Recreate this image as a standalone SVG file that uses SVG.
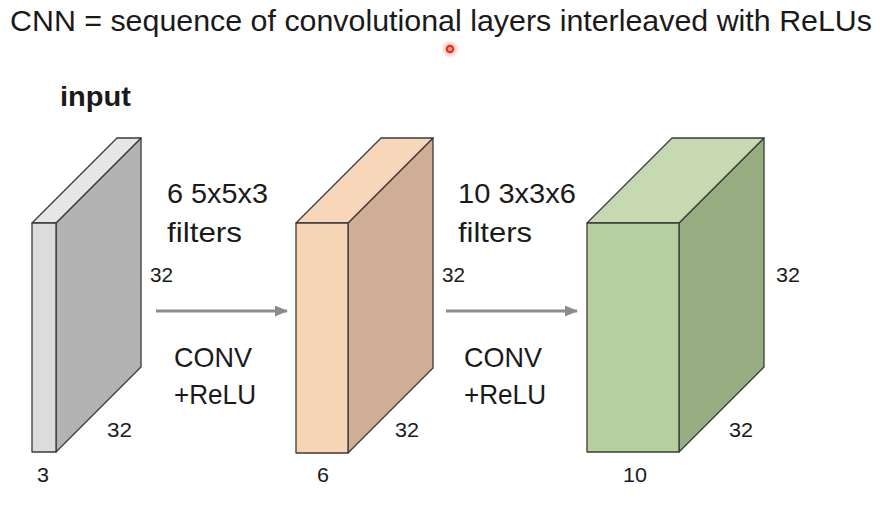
<svg xmlns="http://www.w3.org/2000/svg" width="884" height="506" viewBox="0 0 884 506">
<defs>
<style>
text{font-family:"Liberation Sans",Arial,sans-serif;fill:#1a1a1a}
.lbl{font-size:28px}
.dim{font-size:21px}
.blk{stroke:#3a3a3a;stroke-width:1.3;stroke-linejoin:round}
.conn{stroke:#8c8c8c;stroke-width:3;fill:none}
</style>
<marker id="ah" viewBox="0 0 13 11" refX="12" refY="5.5" markerWidth="13" markerHeight="11" markerUnits="userSpaceOnUse" orient="auto">
<path d="M0,0 L13,5.5 L0,11 Z" fill="#8c8c8c"/>
</marker>
<radialGradient id="glow">
<stop offset="0" stop-color="#ff6a50" stop-opacity="0.7"/>
<stop offset="1" stop-color="#ff6a50" stop-opacity="0"/>
</radialGradient>
</defs>
<rect width="884" height="506" fill="#ffffff"/>
<text x="10" y="31" font-size="30" textLength="862" lengthAdjust="spacingAndGlyphs">CNN = sequence of convolutional layers interleaved with ReLUs</text>
<g id="pointer">
<circle cx="450" cy="49" r="9" fill="url(#glow)"/>
<circle cx="450" cy="49" r="3.2" fill="none" stroke="#e8321e" stroke-width="2.2"/>
</g>
<g id="input">
<text x="60" y="106" font-size="27" font-weight="bold" textLength="71" lengthAdjust="spacingAndGlyphs">input</text>
<polygon class="blk" points="56,223 141,138 141,367 56,452" fill="#b3b3b3"/>
<polygon class="blk" points="32,223 117,138 141,138 56,223" fill="#e6e6e6"/>
<rect class="blk" x="32" y="223" width="24" height="229" fill="#dcdcdc"/>
<text class="dim" x="150" y="282" textLength="23" lengthAdjust="spacingAndGlyphs">32</text>
<text class="dim" x="107" y="437" textLength="25" lengthAdjust="spacingAndGlyphs">32</text>
<text class="dim" x="37" y="482" textLength="12" lengthAdjust="spacingAndGlyphs">3</text>
</g>
<g id="conv1">
<polygon class="blk" points="348,223 433,138 433,368 348,453" fill="#d0ae96"/>
<polygon class="blk" points="296,223 381,138 433,138 348,223" fill="#f8d6ba"/>
<rect class="blk" x="296" y="223" width="52" height="230" fill="#f8d4b6"/>
<text class="dim" x="442" y="282" textLength="23" lengthAdjust="spacingAndGlyphs">32</text>
<text class="dim" x="395" y="437" textLength="24" lengthAdjust="spacingAndGlyphs">32</text>
<text class="dim" x="317" y="482" textLength="12" lengthAdjust="spacingAndGlyphs">6</text>
</g>
<g id="conv2">
<polygon class="blk" points="679,223 764,138 764,367 679,452" fill="#98ae82"/>
<polygon class="blk" points="587,223 672,138 764,138 679,223" fill="#c6d9b0"/>
<rect class="blk" x="587" y="223" width="92" height="229" fill="#b7cf9e"/>
<text class="dim" x="776" y="282" textLength="24" lengthAdjust="spacingAndGlyphs">32</text>
<text class="dim" x="729" y="437" textLength="24" lengthAdjust="spacingAndGlyphs">32</text>
<text class="dim" x="623" y="482" textLength="24" lengthAdjust="spacingAndGlyphs">10</text>
</g>
<g id="connectors">
<line class="conn" x1="156" y1="311" x2="287" y2="311" marker-end="url(#ah)"/>
<line class="conn" x1="446" y1="311" x2="577" y2="311" marker-end="url(#ah)"/>
</g>
<g id="labels">
<text class="lbl" x="167" y="203" textLength="101" lengthAdjust="spacingAndGlyphs">6 5x5x3</text>
<text class="lbl" x="167" y="242" textLength="75" lengthAdjust="spacingAndGlyphs">filters</text>
<text class="lbl" x="174" y="367" textLength="78" lengthAdjust="spacingAndGlyphs">CONV</text>
<text class="lbl" x="174" y="404" textLength="82" lengthAdjust="spacingAndGlyphs">+ReLU</text>
<text class="lbl" x="458" y="203" textLength="118" lengthAdjust="spacingAndGlyphs">10 3x3x6</text>
<text class="lbl" x="458" y="242" textLength="74" lengthAdjust="spacingAndGlyphs">filters</text>
<text class="lbl" x="464" y="367" textLength="78" lengthAdjust="spacingAndGlyphs">CONV</text>
<text class="lbl" x="464" y="404" textLength="82" lengthAdjust="spacingAndGlyphs">+ReLU</text>
</g>
</svg>
